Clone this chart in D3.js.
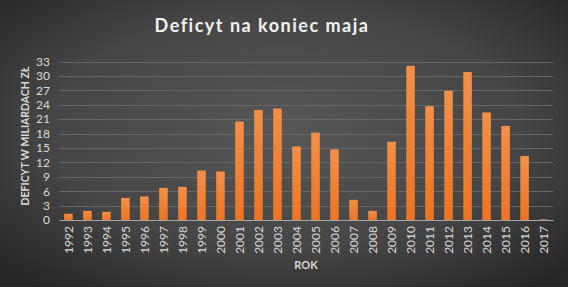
<!DOCTYPE html>
<html>
<head>
<meta charset="utf-8">
<script src="https://cdn.jsdelivr.net/npm/d3@7"></script>
<style>
  body { margin: 0; background: #333; }
  svg { display: block; font-family: Lato, "Open Sans", "DejaVu Sans", sans-serif; }
</style>
</head>
<body>
<div id="chart"></div>
<script>
// data
var years = ["1992", "1993", "1994", "1995", "1996", "1997", "1998", "1999", "2000",
  "2001", "2002", "2003", "2004", "2005", "2006", "2007", "2008", "2009", "2010",
  "2011", "2012", "2013", "2014", "2015", "2016", "2017"];
var deficit = [1.3, 1.9, 1.7, 4.6, 4.9, 6.7, 6.9, 10.3, 10.1, 20.5, 22.9, 23.2, 15.3,
  18.2, 14.7, 4.2, 1.9, 16.3, 32.1, 23.7, 26.9, 30.8, 22.4, 19.6, 13.3, 0.2];
var yTicks = [0, 3, 6, 9, 12, 15, 18, 21, 24, 27, 30, 33];

var width = 568;
var height = 287;
var margin = { top: 61.5, right: 15, bottom: 67, left: 59 };

var svg = d3.select("#chart")
  .append("svg")
  .attr("width", width)
  .attr("height", height);

var defs = svg.append("defs");

// background: lighter in the middle, darker at the edges
var bg = defs.append("radialGradient")
  .attr("id", "bg")
  .attr("cx", "50%").attr("cy", "45%").attr("r", "70%");
bg.append("stop").attr("offset", "0%").attr("stop-color", "#575757");
bg.append("stop").attr("offset", "60%").attr("stop-color", "#454545");
bg.append("stop").attr("offset", "100%").attr("stop-color", "#262626");

var barGrad = defs.append("linearGradient")
  .attr("id", "bar")
  .attr("x1", 0).attr("y1", 0).attr("x2", 0).attr("y2", 1);
barGrad.append("stop").attr("offset", "0%").attr("stop-color", "#f39048");
barGrad.append("stop").attr("offset", "100%").attr("stop-color", "#ec7424");

svg.append("rect")
  .attr("width", width)
  .attr("height", height)
  .attr("fill", "url(#bg)");

var xScale = d3.scaleBand()
  .domain(years)
  .range([margin.left, width - margin.right])
  .paddingInner(0.55)
  .paddingOuter(0.27);

var yScale = d3.scaleLinear()
  .domain([0, 33])
  .range([height - margin.bottom, margin.top]);

// gridlines
svg.append("g")
  .selectAll("line")
  .data(yTicks.slice(1))
  .enter()
  .append("line")
  .attr("x1", margin.left)
  .attr("x2", width - margin.right)
  .attr("y1", function (d) { return Math.round(yScale(d)) + 0.5; })
  .attr("y2", function (d) { return Math.round(yScale(d)) + 0.5; })
  .attr("stroke", "#676767")
  .attr("stroke-width", 1);

// bars
svg.append("g")
  .selectAll("rect")
  .data(deficit)
  .enter()
  .append("rect")
  .attr("x", function (d, i) { return xScale(years[i]); })
  .attr("y", function (d) { return yScale(d); })
  .attr("width", xScale.bandwidth())
  .attr("height", function (d) { return yScale(0) - yScale(d); })
  .attr("fill", function (d) { return d < 0.5 ? "#a06a55" : "url(#bar)"; });

// y axis
var yAxis = d3.axisLeft(yScale).tickValues(yTicks).tickSize(0).tickPadding(9);
var gy = svg.append("g")
  .attr("transform", "translate(" + margin.left + ",0)")
  .call(yAxis);
gy.select(".domain").remove();
gy.selectAll("text")
  .attr("fill", "#d9d9d9")
  .style("font-family", "Lato, sans-serif")
  .style("font-size", "12px");

// x axis
var xAxis = d3.axisBottom(xScale).tickSize(0).tickPadding(6);
var gx = svg.append("g")
  .attr("transform", "translate(0," + yScale(0) + ")")
  .call(xAxis);
gx.select(".domain").attr("stroke", "#a6a6a6").attr("stroke-width", 1);
gx.selectAll("text")
  .attr("fill", "#d9d9d9")
  .style("font-family", "Lato, sans-serif")
  .style("font-size", "12px")
  .attr("text-anchor", "end")
  .attr("dy", "0.35em")
  .attr("transform", "rotate(-90)")
  .attr("x", -6)
  .attr("y", 0);

// title
svg.append("text")
  .attr("x", 262)
  .attr("y", 32)
  .attr("text-anchor", "middle")
  .attr("fill", "#f2f2f2")
  .style("font-size", "18px")
  .style("font-weight", "bold")
  .style("letter-spacing", "1.5px")
  .text("Deficyt na koniec maja");

// axis titles
svg.append("text")
  .attr("transform", "translate(29," + 136 + ") rotate(-90)")
  .attr("text-anchor", "middle")
  .attr("fill", "#d9d9d9")
  .style("font-size", "10.5px")
  .style("font-weight", "bold")
  .text("DEFICYT W MILIARDACH ZŁ");

svg.append("text")
  .attr("x", 306)
  .attr("y", 269)
  .attr("text-anchor", "middle")
  .attr("fill", "#d9d9d9")
  .style("font-size", "11px")
  .style("font-weight", "bold")
  .text("ROK");
</script>
</body>
</html>
